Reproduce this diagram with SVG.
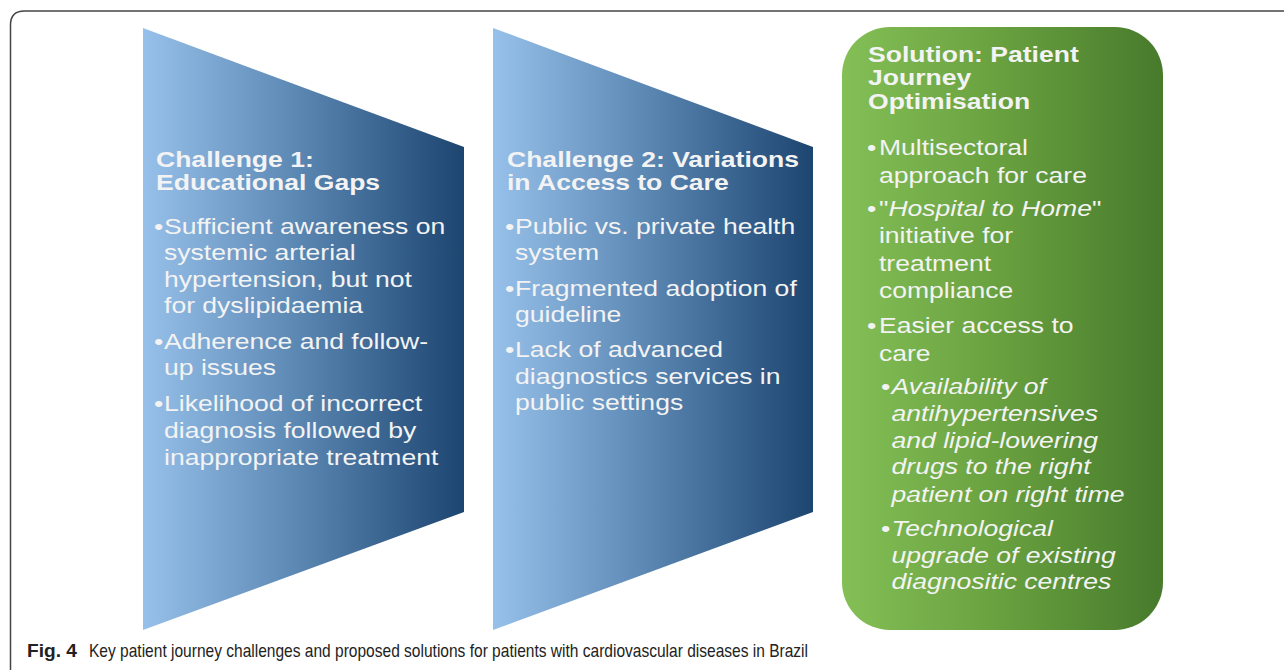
<svg xmlns="http://www.w3.org/2000/svg" width="1284" height="670" viewBox="0 0 1284 670">
<style>
.t{font-family:"Liberation Sans",Arial,sans-serif;font-size:22.5px;fill:#f3f3f3}
.b{font-weight:bold}
.i{font-style:italic}
.cap{font-family:"Liberation Sans",Arial,sans-serif;font-size:19px;fill:#222}
</style>
<defs>
<linearGradient id="gBlue" x1="0" y1="0" x2="1" y2="0">
<stop offset="0" stop-color="#97c1ea"/>
<stop offset="0.45" stop-color="#5f8bb7"/>
<stop offset="1" stop-color="#1c4570"/>
</linearGradient>
<linearGradient id="gGreen" x1="0" y1="0" x2="1" y2="0">
<stop offset="0" stop-color="#84bf56"/>
<stop offset="0.5" stop-color="#68a03f"/>
<stop offset="1" stop-color="#477a2c"/>
</linearGradient>
</defs>
<rect width="1284" height="670" fill="#ffffff"/>
<path d="M10.5 670 V25 Q10.5 11 24.5 11 H1284" fill="none" stroke="#444" stroke-width="1.5"/>
<g id="connectors"></g>
<g id="challenge1">
<polygon points="143,28 464,147 464,512 143,630" fill="url(#gBlue)"/>
<g transform="translate(156 0) scale(1.18 1)">
<text class="t b" x="0" y="167">Challenge 1:</text>
<text class="t b" x="0" y="190">Educational Gaps</text>
<text class="t" x="-1.7" y="234">•</text>
<text class="t" x="6.8" y="234">Sufficient awareness on</text>
<text class="t" x="6.8" y="260">systemic arterial</text>
<text class="t" x="6.8" y="287">hypertension, but not</text>
<text class="t" x="6.8" y="313">for dyslipidaemia</text>
<text class="t" x="-1.7" y="349">•</text>
<text class="t" x="6.8" y="349">Adherence and follow-</text>
<text class="t" x="6.8" y="375">up issues</text>
<text class="t" x="-1.7" y="411">•</text>
<text class="t" x="6.8" y="411">Likelihood of incorrect</text>
<text class="t" x="6.8" y="438">diagnosis followed by</text>
<text class="t" x="6.8" y="465">inappropriate treatment</text>
</g>
</g>
<g id="challenge2">
<polygon points="493,28 813,147 813,512 493,630" fill="url(#gBlue)"/>
<g transform="translate(507 0) scale(1.18 1)">
<text class="t b" x="0" y="167">Challenge 2: Variations</text>
<text class="t b" x="0" y="190">in Access to Care</text>
<text class="t" x="-1.7" y="234">•</text>
<text class="t" x="6.8" y="234">Public vs. private health</text>
<text class="t" x="6.8" y="260">system</text>
<text class="t" x="-1.7" y="296">•</text>
<text class="t" x="6.8" y="296">Fragmented adoption of</text>
<text class="t" x="6.8" y="322">guideline</text>
<text class="t" x="-1.7" y="357">•</text>
<text class="t" x="6.8" y="357">Lack of advanced</text>
<text class="t" x="6.8" y="384">diagnostics services in</text>
<text class="t" x="6.8" y="410">public settings</text>
</g>
</g>
<g id="solution">
<rect x="842" y="27" width="321" height="603" rx="48" ry="48" fill="url(#gGreen)"/>
<g transform="translate(868 0) scale(1.18 1)">
<text class="t b" x="0" y="62">Solution: Patient</text>
<text class="t b" x="0" y="85">Journey</text>
<text class="t b" x="0" y="109">Optimisation</text>
<text class="t" x="-0.8" y="155">•</text>
<text class="t" x="9.3" y="155">Multisectoral</text>
<text class="t" x="9.3" y="183">approach for care</text>
<text class="t" x="-0.8" y="216">•</text>
<text class="t" x="9.3" y="216">"<tspan class="i">Hospital to Home</tspan>"</text>
<text class="t" x="9.3" y="243">initiative for</text>
<text class="t" x="9.3" y="271">treatment</text>
<text class="t" x="9.3" y="298">compliance</text>
<text class="t" x="-0.8" y="333">•</text>
<text class="t" x="9.3" y="333">Easier access to</text>
<text class="t" x="9.3" y="361">care</text>
<text class="t" x="11" y="394">•</text>
<text class="t i" x="20" y="394">Availability of</text>
<text class="t i" x="20" y="421">antihypertensives</text>
<text class="t i" x="20" y="448">and lipid-lowering</text>
<text class="t i" x="20" y="474">drugs to the right</text>
<text class="t i" x="20" y="502">patient on right time</text>
<text class="t" x="11" y="536">•</text>
<text class="t i" x="20" y="536">Technological</text>
<text class="t i" x="20" y="563">upgrade of existing</text>
<text class="t i" x="20" y="589">diagnositic centres</text>
</g>
</g>
<g id="caption">
<text class="cap" x="27" y="657"><tspan font-weight="bold" textLength="50" lengthAdjust="spacingAndGlyphs">Fig. 4</tspan><tspan x="89" textLength="719" lengthAdjust="spacingAndGlyphs">Key patient journey challenges and proposed solutions for patients with cardiovascular diseases in Brazil</tspan></text>
</g>
</svg>
